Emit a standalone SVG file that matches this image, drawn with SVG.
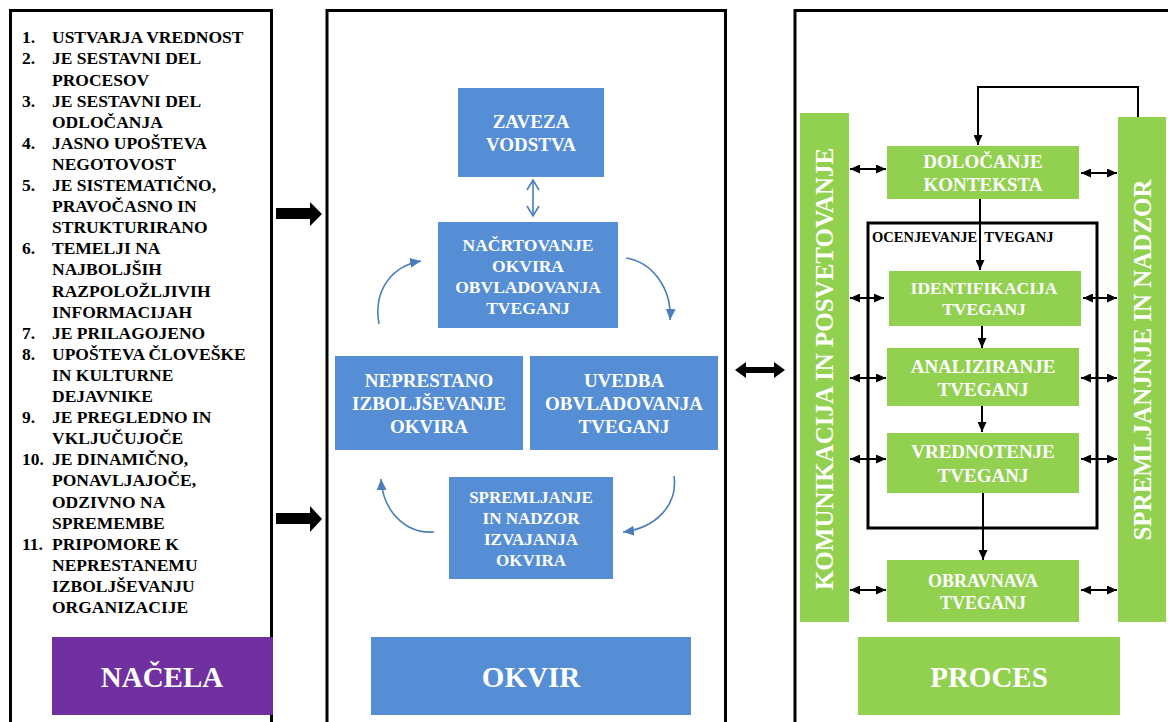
<svg xmlns="http://www.w3.org/2000/svg" width="1168" height="722" viewBox="0 0 1168 722">
  <defs>
    <style>
      .frame{fill:none;stroke:#000;stroke-width:3}
      .serif{font-family:"Liberation Serif","DejaVu Serif","Noto Serif",Tinos,"Times New Roman",Times,serif;font-weight:bold}
      .list{font-size:17.5px;fill:#000}
      .lbl{fill:#fff;text-anchor:middle}
      .blue{fill:#558ED5}
      .green{fill:#92D050}
      .purple{fill:#7030A0}
      .big{font-size:29px}
      .f19{font-size:19px}
      .f17{font-size:17.5px}
      .link{fill:none;stroke:#000;stroke-width:2}
      .cyc{fill:none;stroke:#4A7EBB;stroke-width:1.6}
    </style>
    <marker id="ah" viewBox="0 0 10 9" refX="10" refY="4.5" markerWidth="10" markerHeight="9" markerUnits="userSpaceOnUse" orient="auto-start-reverse">
      <path d="M0,0 L10,4.5 L0,9 z" fill="#000"/>
    </marker>
    <marker id="ahb" viewBox="0 0 10 9" refX="10" refY="4.5" markerWidth="11" markerHeight="10" markerUnits="userSpaceOnUse" orient="auto">
      <path d="M0,0 L10,4.5 L0,9 z" fill="#4A7EBB"/>
    </marker>
  </defs>

  <rect width="1168" height="722" fill="#fff"/>

  <!-- three column frames, open at the bottom -->
  <path class="frame" d="M10.5,722 V10.5 H271.5 V722"/>
  <path class="frame" d="M327,722 V10.5 H725.5 V722"/>
  <path class="frame" d="M795,722 V10.5 H1168"/>

  <!-- principles list -->
  <g id="nacela-list" class="serif list">
    <text x="22" y="43.3">1.</text><text x="52" y="43.3">USTVARJA VREDNOST</text>
    <text x="22" y="64.4">2.</text><text x="52" y="64.4">JE SESTAVNI DEL</text>
    <text x="52" y="85.5">PROCESOV</text>
    <text x="22" y="106.6">3.</text><text x="52" y="106.6">JE SESTAVNI DEL</text>
    <text x="52" y="127.7">ODLOČANJA</text>
    <text x="22" y="148.8">4.</text><text x="52" y="148.8">JASNO UPOŠTEVA</text>
    <text x="52" y="169.9">NEGOTOVOST</text>
    <text x="22" y="191">5.</text><text x="52" y="191">JE SISTEMATIČNO,</text>
    <text x="52" y="212.1">PRAVOČASNO IN</text>
    <text x="52" y="233.2">STRUKTURIRANO</text>
    <text x="22" y="254.3">6.</text><text x="52" y="254.3">TEMELJI NA</text>
    <text x="52" y="275.4">NAJBOLJŠIH</text>
    <text x="52" y="296.5">RAZPOLOŽLJIVIH</text>
    <text x="52" y="317.6">INFORMACIJAH</text>
    <text x="22" y="338.7">7.</text><text x="52" y="338.7">JE PRILAGOJENO</text>
    <text x="22" y="359.8">8.</text><text x="52" y="359.8">UPOŠTEVA ČLOVEŠKE</text>
    <text x="52" y="380.9">IN KULTURNE</text>
    <text x="52" y="402">DEJAVNIKE</text>
    <text x="22" y="423.1">9.</text><text x="52" y="423.1">JE PREGLEDNO IN</text>
    <text x="52" y="444.2">VKLJUČUJOČE</text>
    <text x="22" y="465.3">10.</text><text x="52" y="465.3">JE DINAMIČNO,</text>
    <text x="52" y="486.4">PONAVLJAJOČE,</text>
    <text x="52" y="507.5">ODZIVNO NA</text>
    <text x="52" y="528.6">SPREMEMBE</text>
    <text x="22" y="549.7">11.</text><text x="52" y="549.7">PRIPOMORE K</text>
    <text x="52" y="570.8">NEPRESTANEMU</text>
    <text x="52" y="591.9">IZBOLJŠEVANJU</text>
    <text x="52" y="613">ORGANIZACIJE</text>
  </g>

  <g id="nacela" class="serif">
    <rect class="purple" x="52" y="637" width="221" height="78"/>
    <text class="lbl big" x="162" y="687">NAČELA</text>
  </g>

  <!-- framework column -->
  <g id="zaveza" class="serif">
    <rect class="blue" x="458" y="88" width="146" height="89"/>
    <text class="lbl f19" x="531" y="128">ZAVEZA</text>
    <text class="lbl f19" x="531" y="151">VODSTVA</text>
  </g>
  <g id="nacrtovanje" class="serif">
    <rect class="blue" x="438" y="222" width="180" height="106"/>
    <text class="lbl f17" x="528" y="250.7">NAČRTOVANJE</text>
    <text class="lbl f17" x="528" y="272">OKVIRA</text>
    <text class="lbl f17" x="528" y="293.2">OBVLADOVANJA</text>
    <text class="lbl f17" x="528" y="314">TVEGANJ</text>
  </g>
  <g id="neprestano" class="serif">
    <rect class="blue" x="335" y="356" width="188" height="94"/>
    <text class="lbl f19" x="429" y="387.3">NEPRESTANO</text>
    <text class="lbl f19" x="429" y="410">IZBOLJŠEVANJE</text>
    <text class="lbl f19" x="429" y="432.7">OKVIRA</text>
  </g>
  <g id="uvedba" class="serif">
    <rect class="blue" x="530" y="356" width="188" height="94"/>
    <text class="lbl f19" x="624" y="387.3">UVEDBA</text>
    <text class="lbl f19" x="624" y="410">OBVLADOVANJA</text>
    <text class="lbl f19" x="624" y="432.7">TVEGANJ</text>
  </g>
  <g id="spremljanje-okvira" class="serif">
    <rect class="blue" x="449" y="477" width="164" height="102"/>
    <text class="lbl" font-size="17" x="531" y="502.7">SPREMLJANJE</text>
    <text class="lbl" font-size="17" x="531" y="524">IN NADZOR</text>
    <text class="lbl" font-size="17" x="531" y="545">IZVAJANJA</text>
    <text class="lbl" font-size="17" x="531" y="566">OKVIRA</text>
  </g>
  <g id="okvir" class="serif">
    <rect class="blue" x="371" y="637" width="320" height="78"/>
    <text class="lbl big" x="531" y="687">OKVIR</text>
  </g>

  <!-- process column -->
  <g id="komunikacija" class="serif">
    <rect class="green" x="800" y="113" width="49" height="509"/>
    <text class="lbl" font-size="25" transform="translate(833,369) rotate(-90)">KOMUNIKACIJA IN POSVETOVANJE</text>
  </g>
  <g id="spremljanje-nadzor" class="serif">
    <rect class="green" x="1118" y="117" width="48" height="505"/>
    <text class="lbl" font-size="25" transform="translate(1151,360) rotate(-90)">SPREMLJANJNJE IN NADZOR</text>
  </g>
  <g id="kontekst" class="serif">
    <rect class="green" x="887" y="146" width="192" height="53"/>
    <text class="lbl f19" x="983" y="168.3">DOLOČANJE</text>
    <text class="lbl f19" x="983" y="191">KONTEKSTA</text>
  </g>
  <g id="ocenjevanje" class="serif">
    <rect x="868" y="223" width="229" height="305" fill="none" stroke="#000" stroke-width="3"/>
    <text x="872" y="242" font-size="14.5" fill="#000" xml:space="preserve">OCENJEVANJE  TVEGANJ</text>
  </g>
  <g id="identifikacija" class="serif">
    <rect class="green" x="889" y="271" width="192" height="55"/>
    <text class="lbl f17" x="984" y="294">IDENTIFIKACIJA</text>
    <text class="lbl f17" x="984" y="315">TVEGANJ</text>
  </g>
  <g id="analiziranje" class="serif">
    <rect class="green" x="887" y="348" width="192" height="58"/>
    <text class="lbl f19" x="983" y="372.7">ANALIZIRANJE</text>
    <text class="lbl f19" x="983" y="395.7">TVEGANJ</text>
  </g>
  <g id="vrednotenje" class="serif">
    <rect class="green" x="887" y="433" width="192" height="60"/>
    <text class="lbl f19" x="983" y="458.3">VREDNOTENJE</text>
    <text class="lbl f19" x="983" y="481.7">TVEGANJ</text>
  </g>
  <g id="obravnava" class="serif">
    <rect class="green" x="887" y="560" width="192" height="62"/>
    <text class="lbl" font-size="18" x="983" y="586.7">OBRAVNAVA</text>
    <text class="lbl" font-size="18" x="983" y="609.3">TVEGANJ</text>
  </g>
  <g id="proces" class="serif">
    <rect class="green" x="858" y="637" width="262" height="78"/>
    <text class="lbl big" x="989" y="687">PROCES</text>
  </g>

  <g id="connectors">
    <!-- block arrows between columns -->
    <polygon points="276,208 310,208 310,202 322,214 310,226 310,219 276,219" fill="#000"/>
    <polygon points="276,513 310,513 310,506 322,519 310,532 310,524 276,524" fill="#000"/>
    <polygon points="735,370 746,362 746,367 774,367 774,362 785,370 774,378 774,373 746,373 746,378" fill="#000"/>

    <!-- framework cycle -->
    <g fill="none" stroke="#4A7EBB" stroke-width="1.6">
      <path d="M533,181 V215"/>
      <path d="M527,190 L533,180 L539,190"/>
      <path d="M527,206 L533,216 L539,206"/>
    </g>
    <path class="cyc" marker-end="url(#ahb)" d="M379,324 C373,290 392,266 421,261"/>
    <path class="cyc" marker-end="url(#ahb)" d="M626,258 C652,262 672,288 670,320"/>
    <path class="cyc" marker-end="url(#ahb)" d="M674,476 C678,505 656,528 623,532"/>
    <path class="cyc" marker-end="url(#ahb)" d="M434,532 C406,534 383,512 381,479"/>

    <!-- process flow -->
    <path class="link" marker-end="url(#ah)" d="M1138,117 V87 H978 V145"/>
    <path class="link" marker-end="url(#ah)" d="M980,199 V270"/>
    <path class="link" marker-end="url(#ah)" d="M982,326 V348"/>
    <path class="link" marker-end="url(#ah)" d="M982,406 V432"/>
    <path class="link" marker-end="url(#ah)" d="M983,493 V560"/>

    <!-- exchange with the side bars -->
    <path class="link" marker-start="url(#ah)" marker-end="url(#ah)" d="M850,169 H886"/>
    <path class="link" marker-start="url(#ah)" marker-end="url(#ah)" d="M1081,173 H1117"/>
    <path class="link" marker-start="url(#ah)" marker-end="url(#ah)" d="M850,298 H884"/>
    <path class="link" marker-start="url(#ah)" marker-end="url(#ah)" d="M1083,298 H1117"/>
    <path class="link" marker-start="url(#ah)" marker-end="url(#ah)" d="M850,378 H886"/>
    <path class="link" marker-start="url(#ah)" marker-end="url(#ah)" d="M1081,378 H1117"/>
    <path class="link" marker-start="url(#ah)" marker-end="url(#ah)" d="M850,459 H886"/>
    <path class="link" marker-start="url(#ah)" marker-end="url(#ah)" d="M1081,459 H1117"/>
    <path class="link" marker-start="url(#ah)" marker-end="url(#ah)" d="M850,590 H886"/>
    <path class="link" marker-start="url(#ah)" marker-end="url(#ah)" d="M1081,590 H1117"/>
  </g>
</svg>
